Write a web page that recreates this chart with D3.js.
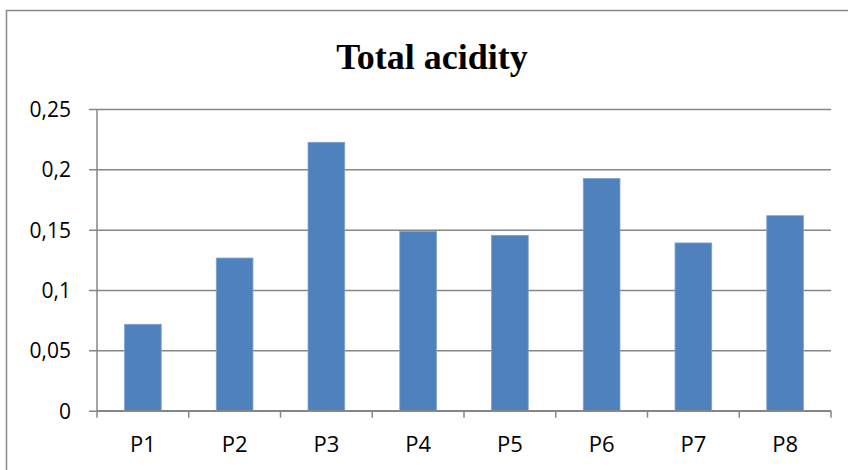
<!DOCTYPE html>
<html>
<head>
<meta charset="utf-8">
<script src="https://cdn.jsdelivr.net/npm/d3@7"></script>
<style>
  html, body { margin: 0; padding: 0; background: #fff; }
  svg { display: block; }
</style>
</head>
<body>
<svg id="chart" width="848" height="470"></svg>
<script>
const categories = ["P1", "P2", "P3", "P4", "P5", "P6", "P7", "P8"];
const values = [0.0716, 0.1265, 0.2224, 0.1486, 0.1453, 0.1925, 0.139, 0.1616];
const yTicks = [0, 0.05, 0.1, 0.15, 0.2, 0.25];
const yTickLabels = ["0", "0,05", "0,1", "0,15", "0,2", "0,25"];
const title = "Total acidity";

const svg = d3.select("#chart");
const W = 848, H = 470;
const m = { left: 97, right: 848 - 831, top: 109, bottom: 470 - 410.7 };

// outer chart border (right/bottom edges fall outside the picture)
svg.append("rect")
  .attr("x", 6.5).attr("y", 10.5)
  .attr("width", 900).attr("height", 600)
  .attr("fill", "none").attr("stroke", "#898989").attr("stroke-width", 1.5);

const x = d3.scaleBand().domain(categories).range([m.left, W - m.right]).paddingInner(0.6).paddingOuter(0.3);
const y = d3.scaleLinear().domain([0, 0.25]).range([H - m.bottom, m.top]);

// gridlines with left tick marks
const gy = svg.append("g").attr("transform", `translate(${m.left},0)`)
  .call(d3.axisLeft(y).tickValues(yTicks)
    .tickSize(-(W - m.right - m.left))
    .tickFormat((d, i) => yTickLabels[i]));
gy.select(".domain").remove();
gy.selectAll(".tick line").attr("stroke", "#868686").attr("stroke-width", 1.5)
  .attr("x1", -8);
gy.selectAll(".tick text")
  .attr("x", -26)
  .attr("dy", "0.35em")
  .attr("fill", "#000")
  .style("font-family", "'Open Sans', sans-serif")
  .style("font-size", "21px");

// y axis line
svg.append("line")
  .attr("x1", m.left).attr("x2", m.left)
  .attr("y1", y(0.25)).attr("y2", y(0))
  .attr("stroke", "#868686").attr("stroke-width", 1.5);

// bars
svg.append("g").selectAll("rect").data(values).join("rect")
  .attr("x", (d, i) => x(categories[i]))
  .attr("y", d => y(d))
  .attr("width", x.bandwidth())
  .attr("height", d => y(0) - y(d))
  .attr("fill", "#4F81BD")
  .attr("stroke", "#7FA3D2")
  .attr("stroke-width", 0.8);

// x axis baseline with boundary ticks
const step = x.step();
const bounds = categories.map(c => x(c) - step * x.paddingInner() / 2 ).concat([W - m.right]);
svg.append("line")
  .attr("x1", m.left).attr("x2", W - m.right)
  .attr("y1", y(0)).attr("y2", y(0))
  .attr("stroke", "#868686").attr("stroke-width", 1.5);
svg.append("g").selectAll("line").data(bounds).join("line")
  .attr("x1", d => d).attr("x2", d => d)
  .attr("y1", y(0)).attr("y2", y(0) + 7)
  .attr("stroke", "#868686").attr("stroke-width", 1.5);

// x labels
svg.append("g").selectAll("text").data(categories).join("text")
  .attr("x", c => x(c) + x.bandwidth() / 2)
  .attr("y", 452)
  .attr("text-anchor", "middle")
  .style("font-family", "'Open Sans', sans-serif")
  .style("font-size", "22px")
  .text(c => c);

// title
svg.append("text")
  .attr("x", 432).attr("y", 69)
  .attr("text-anchor", "middle")
  .style("font-family", "'Liberation Serif', 'Times New Roman', serif")
  .style("font-weight", "bold")
  .style("font-size", "36px")
  .text(title);
</script>
</body>
</html>
